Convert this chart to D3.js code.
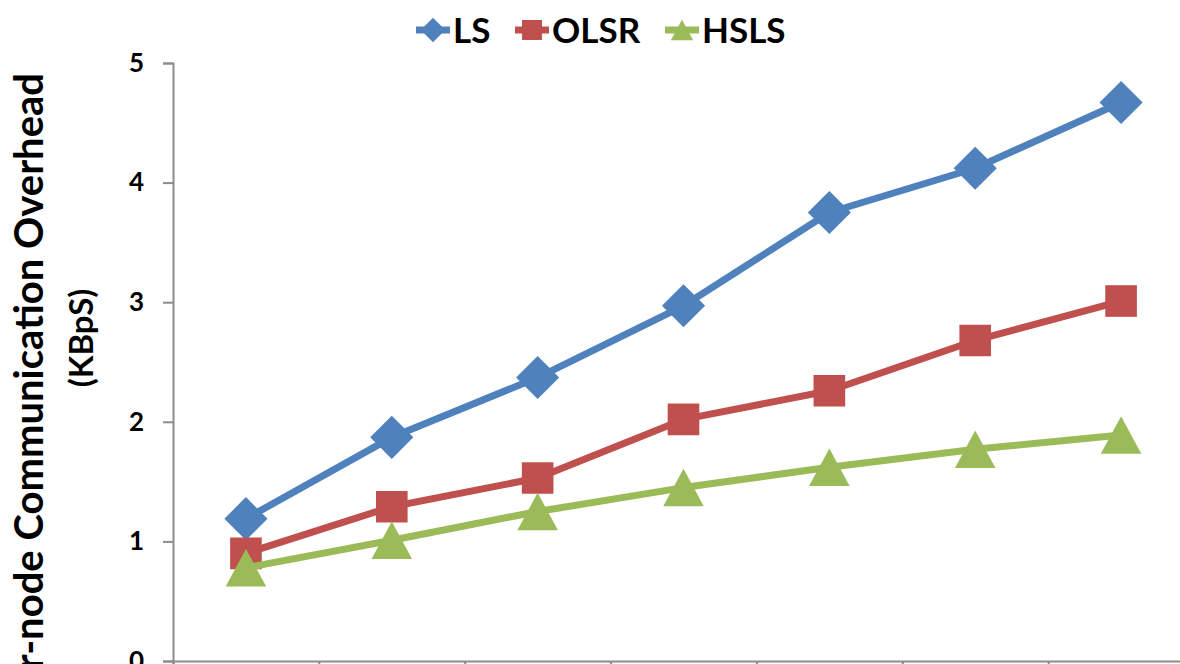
<!DOCTYPE html>
<html>
<head>
<meta charset="utf-8">
<script src="https://cdn.jsdelivr.net/npm/d3@7"></script>
<style>
  body { margin: 0; background: #fff; }
  svg { display: block; }
  text { font-family: Lato, Calibri, 'Open Sans', sans-serif; font-weight: bold; }
</style>
</head>
<body>
<svg id="chart" width="1180" height="664"></svg>
<script>
// x labels fall below the cropped picture, so only the category order matters
const categories = [1, 2, 3, 4, 5, 6, 7];
const seriesNames = ['LS', 'OLSR', 'HSLS'];
const lsValues = [1.19, 1.87, 2.37, 2.97, 3.75, 4.12, 4.67];
const olsrValues = [0.90, 1.29, 1.53, 2.02, 2.26, 2.68, 3.01];
const hslsValues = [0.78, 1.01, 1.25, 1.45, 1.62, 1.77, 1.89];
const yTicks = [0, 1, 2, 3, 4, 5];
const yTitle = ['Per-node Communication Overhead', '(KBpS)'];

const colors = ['#4F81BD', '#C0504D', '#9BBB59'];

// triangle marker centred on its bounding box (like Excel)
const triangleBox = {
  draw(context, size) {
    const s = Math.sqrt(size);
    context.moveTo(0, -s * 0.48);
    context.lineTo(s * 0.52, s * 0.48);
    context.lineTo(-s * 0.52, s * 0.48);
    context.closePath();
  }
};
const markers = [
  { type: d3.symbolSquare, size: 930, rotate: 45 },
  { type: d3.symbolSquare, size: 1000, rotate: 0 },
  { type: triangleBox, size: 1520, rotate: 0 }
];
const legendMarkers = [
  { type: d3.symbolSquare, size: 300, rotate: 45 },
  { type: d3.symbolSquare, size: 400, rotate: 0 },
  { type: triangleBox, size: 460, rotate: 0 }
];

const series = seriesNames.map((name, i) => ({
  name,
  color: colors[i],
  values: [lsValues, olsrValues, hslsValues][i]
}));

const svg = d3.select('svg#chart');
const margin = { left: 173, top: 63 };
const plotBottom = 661;
const plotRight = 1194;

//scales
const xScale = d3.scaleLinear()
  .domain([0, categories.length])
  .range([margin.left, plotRight]);

const yScale = d3.scaleLinear()
  .domain([0, 5])
  .range([plotBottom, margin.top]);

const xPos = i => xScale(i + 0.5);

//draw Xaxis
const xAxis = d3.axisBottom(xScale)
  .tickValues(d3.range(0, categories.length + 1))
  .tickSize(8)
  .tickFormat('');

svg.append('g')
  .attr('class', 'x-axis')
  .attr('transform', `translate(0,${plotBottom})`)
  .call(xAxis);

//draw Yaxis
const yAxis = d3.axisLeft(yScale)
  .tickValues(yTicks)
  .tickSize(10)
  .tickPadding(19)
  .tickFormat(d3.format('d'));

svg.append('g')
  .attr('class', 'y-axis')
  .attr('transform', `translate(${margin.left},0)`)
  .call(yAxis);

svg.selectAll('.x-axis path, .x-axis line, .y-axis path, .y-axis line')
  .attr('stroke', '#8c8c8c')
  .attr('stroke-width', 2);

svg.selectAll('.y-axis text')
  .attr('fill', '#000')
  .style('font-size', '26px');

//axis title (first line is larger and runs off the bottom edge)
svg.append('text')
  .attr('transform', 'rotate(-90)')
  .attr('text-anchor', 'end')
  .attr('x', -73)
  .attr('y', 43)
  .attr('fill', '#000')
  .style('font-size', '40px')
  .text(yTitle[0]);

svg.append('text')
  .attr('transform', 'rotate(-90)')
  .attr('text-anchor', 'middle')
  .attr('x', -338)
  .attr('y', 93)
  .attr('fill', '#000')
  .style('font-size', '33px')
  .text(yTitle[1]);

//draw lines and markers
const lineGen = d3.line()
  .x((d, i) => xPos(i))
  .y(d => yScale(d));

const seriesG = svg.selectAll('.series')
  .data(series)
  .enter().append('g')
  .attr('class', 'series');

seriesG.append('path')
  .attr('d', d => lineGen(d.values))
  .attr('fill', 'none')
  .attr('stroke', d => d.color)
  .attr('stroke-width', 7)
  .attr('stroke-linejoin', 'round');

seriesG.each(function (s, si) {
  const m = markers[si];
  d3.select(this).selectAll('.marker')
    .data(s.values)
    .enter().append('path')
    .attr('class', 'marker')
    .attr('transform', (d, i) => `translate(${xPos(i)},${yScale(d)}) rotate(${m.rotate})`)
    .attr('d', d3.symbol().type(m.type).size(m.size)())
    .attr('fill', s.color);
});

//legend
const legendX = [433, 532, 682];
const legend = svg.selectAll('.legend-item')
  .data(series)
  .enter().append('g')
  .attr('class', 'legend-item')
  .attr('transform', (d, i) => `translate(${legendX[i]},30)`);

legend.append('line')
  .attr('x1', -17).attr('x2', 17)
  .attr('stroke', d => d.color)
  .attr('stroke-width', 7);

legend.append('path')
  .attr('transform', (d, i) => `rotate(${legendMarkers[i].rotate})`)
  .attr('d', (d, i) => d3.symbol().type(legendMarkers[i].type).size(legendMarkers[i].size)())
  .attr('fill', d => d.color);

legend.append('text')
  .attr('x', 20)
  .attr('y', 13)
  .attr('fill', '#000')
  .style('font-size', '35px')
  .text(d => d.name);
</script>
</body>
</html>
